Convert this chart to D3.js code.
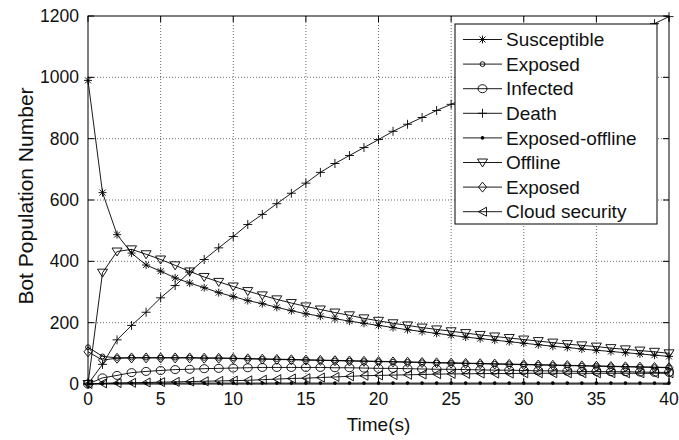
<!DOCTYPE html>
<html>
<head>
<meta charset="utf-8">
<script src="https://cdn.jsdelivr.net/npm/d3@7"></script>
<style>
  html, body { margin: 0; padding: 0; background: #fff; }
  svg { display: block; font-family: "Liberation Sans", Arial, sans-serif; }
</style>
</head>
<body>
<svg id="chart" width="679" height="440"></svg>
<script>
// ---- data ----
const time = [0,1,2,3,4,5,6,7,8,9,10,11,12,13,14,15,16,17,18,19,20,21,22,23,24,25,26,27,28,29,30,31,32,33,34,35,36,37,38,39,40];
const susceptible = [990,624,487,427,388,368,346,329,314,298,285,272,262,250,239,229,221,213,205,198,191,184,177,171,165,159,153,148,143,138,133,128,123,119,114,110,106,102,98,94,90];
const exposed1 = [120,90,85,86,86,86,86,86,85,85,84,83,82,81,80,79,78,77,76,75,74,73,72,71,70,69,68,67,66,65,64,63,62,61,60,59,58,57,56,55,54];
const infected = [0,20,28,37,41,44,47,48,50,51,52,53,54,54,54,54,54,53,53,52,51,51,50,49,48,48,47,46,45,45,44,43,43,42,41,41,40,40,39,38,38];
const death = [0,64,144,191,234,281,321,365,406,444,481,520,553,588,622,655,690,719,745,771,797,824,847,869,892,912,932,951,970,989,1008,1027,1045,1063,1081,1099,1117,1135,1154,1175,1198];
const exposedOffline = [0,2,3,3,3,3,3,3,3,3,3,3,3,3,3,3,3,3,3,3,3,3,3,3,3,3,3,3,3,3,3,3,3,3,3,3,3,3,3,3,3];
const offline = [0,363,432,439,423,406,387,367,349,333,318,303,289,276,264,253,243,233,224,214,206,198,191,184,178,172,166,160,155,150,145,140,135,130,126,122,117,113,109,105,100];
const exposed2 = [105,78,84,85,85,85,85,85,84,84,83,82,81,80,79,78,77,76,75,74,73,72,71,70,69,68,67,66,65,64,63,62,61,60,59,58,57,56,55,54,53];
const cloud = [0,2,3,4,5,6,7,8,9,10,11,12,14,16,18,19,21,23,25,27,28,29,30,31,32,33,33,34,34,34,35,35,35,35,35,35,35,35,35,35,35];

const seriesNames = ["Susceptible","Exposed","Infected","Death","Exposed-offline","Offline","Exposed","Cloud security"];
const seriesValues = [susceptible, exposed1, infected, death, exposedOffline, offline, exposed2, cloud];
const seriesMarkers = ["asterisk","smallcircle","circle","plus","dot","tridown","diamond","trileft"];

const xTicks = [0,5,10,15,20,25,30,35,40];
const yTicks = [0,200,400,600,800,1000,1200];
const xLabel = "Time(s)";
const yLabel = "Bot Population Number";

(function () {
// ---- layout ----
const svg = d3.select("#chart");
const pL = 88, pR = 669, pT = 16, pB = 384;
const x = d3.scaleLinear().domain([0, 40]).range([pL, pR]);
const y = d3.scaleLinear().domain([0, 1200]).range([pB, pT]);

// grid
const grid = svg.append("g");
grid.selectAll("line.gx").data(xTicks.slice(1, -1)).enter().append("line")
  .attr("x1", d => x(d)).attr("x2", d => x(d)).attr("y1", pT).attr("y2", pB)
  .attr("stroke", "#444").attr("stroke-width", 0.8).attr("stroke-dasharray", "1,2");
grid.selectAll("line.gy").data(yTicks.slice(1, -1)).enter().append("line")
  .attr("x1", pL).attr("x2", pR).attr("y1", d => y(d)).attr("y2", d => y(d))
  .attr("stroke", "#444").attr("stroke-width", 0.8).attr("stroke-dasharray", "1,2");

// markers
function markerPath(type) {
  switch (type) {
    case "asterisk": return "M-4,0H4M0,-4V4M-3,-3L3,3M-3,3L3,-3";
    case "plus": return "M-4.5,0H4.5M0,-4.5V4.5";
    case "tridown": return "M-5,-3.5H5L0,4.5Z";
    case "trileft": return "M-4,0L4,-4.5V4.5Z";
    case "diamond": return "M0,-5L4,0L0,5L-4,0Z";
    default: return null;
  }
}
function drawMarker(g, type, cx, cy) {
  if (type === "circle") {
    g.append("ellipse").attr("cx", cx).attr("cy", cy).attr("rx", 4.5).attr("ry", 4)
      .attr("fill", "none").attr("stroke", "#000").attr("stroke-width", 0.9);
  } else if (type === "smallcircle") {
    g.append("circle").attr("cx", cx).attr("cy", cy).attr("r", 2.4)
      .attr("fill", "none").attr("stroke", "#000").attr("stroke-width", 0.9);
  } else if (type === "dot") {
    g.append("circle").attr("cx", cx).attr("cy", cy).attr("r", 1.8).attr("fill", "#000");
  } else {
    g.append("path").attr("d", markerPath(type)).attr("transform", `translate(${cx},${cy})`)
      .attr("fill", "none").attr("stroke", "#000").attr("stroke-width", 0.9);
  }
}

const line = d3.line().x((d, i) => x(time[i])).y(d => y(d));
const plot = svg.append("g");
seriesValues.forEach((vals, si) => {
  const g = plot.append("g");
  g.append("path").datum(vals).attr("d", line)
    .attr("fill", "none").attr("stroke", "#000").attr("stroke-width", 0.9);
  vals.forEach((v, i) => drawMarker(g, seriesMarkers[si], x(time[i]), y(v)));
});

// axes box
svg.append("rect").attr("x", pL).attr("y", pT).attr("width", pR - pL).attr("height", pB - pT)
  .attr("fill", "none").attr("stroke", "#000").attr("stroke-width", 1);

// ticks (inside, all four sides)
const tl = 6;
xTicks.forEach(t => {
  svg.append("line").attr("x1", x(t)).attr("x2", x(t)).attr("y1", pB).attr("y2", pB - tl).attr("stroke", "#000");
  svg.append("line").attr("x1", x(t)).attr("x2", x(t)).attr("y1", pT).attr("y2", pT + tl).attr("stroke", "#000");
});
yTicks.forEach(t => {
  svg.append("line").attr("x1", pL).attr("x2", pL + tl).attr("y1", y(t)).attr("y2", y(t)).attr("stroke", "#000");
  svg.append("line").attr("x1", pR).attr("x2", pR - tl).attr("y1", y(t)).attr("y2", y(t)).attr("stroke", "#000");
});

// tick labels
svg.append("g").selectAll("text").data(xTicks).enter().append("text")
  .attr("x", d => x(d)).attr("y", 405).attr("text-anchor", "middle")
  .attr("font-size", 17.5).attr("fill", "#111").text(d => d);
svg.append("g").selectAll("text").data(yTicks).enter().append("text")
  .attr("x", 79).attr("y", d => y(d)).attr("dy", "0.35em").attr("text-anchor", "end")
  .attr("font-size", 17.5).attr("fill", "#111").text(d => d);

// axis labels
svg.append("text").attr("x", (pL + pR) / 2).attr("y", 431).attr("text-anchor", "middle")
  .attr("font-size", 19).attr("fill", "#111").text(xLabel);
svg.append("text").attr("transform", `translate(33,196) rotate(-90)`).attr("text-anchor", "middle")
  .attr("font-size", 21).attr("fill", "#111").text(yLabel);

// legend
const lg = svg.append("g");
const lx = 455, ly = 24, lw = 202, lh = 200;
lg.append("rect").attr("x", lx).attr("y", ly).attr("width", lw).attr("height", lh)
  .attr("fill", "#fff").attr("stroke", "#000").attr("stroke-width", 1);
seriesNames.forEach((name, i) => {
  const cy = 39.5 + i * 24.6;
  lg.append("line").attr("x1", 463).attr("x2", 502).attr("y1", cy).attr("y2", cy)
    .attr("stroke", "#000").attr("stroke-width", 0.9);
  drawMarker(lg, seriesMarkers[i], 482.5, cy);
  lg.append("text").attr("x", 506).attr("y", cy).attr("dy", "0.35em")
    .attr("font-size", 19).attr("fill", "#111").text(name);
});
})();
</script>
</body>
</html>
